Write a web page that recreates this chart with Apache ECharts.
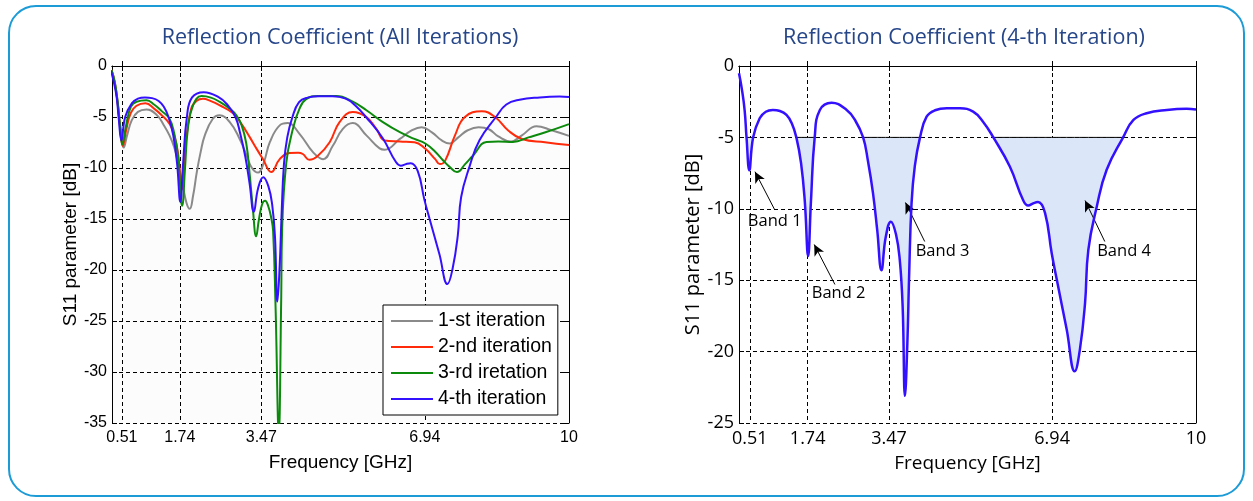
<!DOCTYPE html>
<html><head><meta charset="utf-8">
<script src="https://cdn.jsdelivr.net/npm/echarts@6/dist/echarts.min.js"></script>
<style>
html,body{margin:0;padding:0;background:#fff;}
#frame{position:absolute;left:8px;top:5px;width:1233px;height:488px;border:2px solid #1d9bd6;border-radius:28px;}
#chart{position:absolute;left:0;top:0;width:1253px;height:501px;}
</style></head><body>
<div id="frame"></div><div id="chart"></div>
<script>
// ---------- data ----------
const freqTicks = [0.51, 1.74, 3.47, 6.94, 10];
const seriesNames = ['1-st iteration', '2-nd iteration', '3-rd iretation', '4-th iteration'];
const titles = ['Reflection Coefficient (All Iterations)', 'Reflection Coefficient (4-th Iteration)'];

const it1Freq = [0.29,0.36,0.42,0.48,0.55,0.62,0.72,0.85,1.03,1.25,1.40,1.52,1.62,1.70,1.79,1.88,1.95,2.02,2.10,2.18,2.27,2.44,2.58,2.80,3.01,3.15,3.27,3.40,3.52,3.65,3.86,4.03,4.28,4.57,4.78,4.99,5.20,5.41,5.70,5.98,6.09,6.41,6.66,6.87,7.09,7.30,7.47,7.65,7.85,8.08,8.30,8.50,8.77,9.00,9.31,9.63,10.0];
const it1S11 = [-0.4,-1.6,-3.6,-6.0,-8.0,-6.8,-5.3,-4.5,-4.27,-4.8,-5.8,-6.8,-7.97,-9.45,-11.4,-13.4,-14.0,-12.75,-10.4,-8.47,-6.8,-5.17,-4.83,-5.5,-7.15,-8.7,-10.0,-10.45,-9.5,-7.47,-5.82,-5.6,-6.65,-8.47,-9.13,-7.8,-6.16,-5.6,-6.8,-8.07,-8.2,-7.15,-6.32,-6.0,-6.5,-7.3,-7.6,-7.0,-6.3,-6.0,-6.2,-6.9,-7.4,-6.8,-5.9,-6.3,-6.85];

const it2Freq = [0.29,0.36,0.42,0.47,0.53,0.60,0.70,0.82,1.01,1.20,1.35,1.52,1.62,1.70,1.78,1.86,1.98,2.10,2.23,2.40,2.58,2.87,3.05,3.22,3.38,3.50,3.68,3.86,4.07,4.25,4.35,4.49,4.67,4.92,5.13,5.41,5.70,5.91,6.09,6.41,6.72,6.94,7.16,7.26,7.37,7.58,7.79,8.15,8.43,8.71,9.0,9.49,10.0];
const it2S11 = [-0.4,-1.7,-3.7,-6.0,-7.85,-6.3,-4.6,-3.9,-3.65,-4.2,-4.8,-5.66,-6.8,-8.5,-12.1,-7.8,-4.18,-3.4,-3.22,-3.45,-3.84,-4.64,-5.7,-6.95,-8.2,-9.1,-10.4,-9.13,-8.53,-8.5,-8.63,-9.2,-8.8,-7.47,-5.5,-4.5,-5.0,-6.16,-7.3,-7.4,-7.47,-8.07,-9.13,-9.62,-9.3,-6.8,-5.0,-4.44,-5.0,-6.32,-7.15,-7.47,-7.74];

const it3Freq = [0.29,0.36,0.42,0.47,0.52,0.60,0.70,0.82,1.03,1.20,1.35,1.52,1.62,1.70,1.79,1.85,1.91,2.02,2.20,2.40,2.58,2.80,2.94,3.05,3.15,3.22,3.29,3.36,3.42,3.49,3.55,3.62,3.68,3.72,3.77,3.84,3.89,3.91,4.00,4.14,4.28,4.42,4.67,5.06,5.41,5.70,6.05,6.41,6.72,6.95,7.16,7.33,7.47,7.62,7.80,7.96,8.25,8.50,8.81,9.14,9.50,10.0];
const it3S11 = [-0.4,-1.6,-3.5,-5.8,-7.7,-5.8,-4.0,-3.5,-3.35,-3.8,-4.4,-5.17,-6.6,-8.8,-13.7,-10.0,-6.16,-3.85,-2.95,-3.1,-3.5,-4.2,-4.83,-5.8,-7.6,-10.5,-14.0,-16.7,-15.0,-13.5,-13.2,-13.8,-14.9,-16.2,-23.3,-36,-23.3,-16.2,-9.45,-6.16,-4.18,-3.25,-2.95,-2.95,-3.5,-4.34,-5.5,-6.49,-7.15,-7.6,-8.4,-9.26,-9.9,-10.4,-9.6,-8.8,-7.44,-7.4,-7.44,-7.0,-6.5,-5.7];

const it4Freq = [0.28,0.34,0.40,0.44,0.50,0.58,0.72,0.85,1.00,1.15,1.29,1.40,1.50,1.60,1.68,1.75,1.81,1.89,2.00,2.25,2.57,2.75,2.92,3.02,3.13,3.22,3.31,3.40,3.51,3.62,3.70,3.76,3.81,3.86,3.90,3.95,4.02,4.13,4.27,4.45,4.70,4.98,5.26,5.47,5.69,6.04,6.32,6.43,6.55,6.64,6.79,6.93,7.04,7.25,7.42,7.53,7.64,7.71,7.89,8.10,8.45,8.67,8.95,9.38,9.80,10.0];
const it4S11 = [-0.5,-1.6,-3.1,-5.0,-7.3,-5.0,-3.66,-3.2,-3.08,-3.15,-3.43,-4.0,-5.0,-6.8,-9.5,-13.3,-9.5,-5.0,-3.08,-2.57,-3.08,-3.8,-5.0,-6.6,-8.9,-11.5,-14.3,-12.0,-10.9,-11.8,-13.6,-16.8,-23.1,-19.5,-14.5,-9.6,-7.0,-5.0,-3.55,-3.1,-2.96,-2.96,-3.2,-3.9,-5.0,-7.04,-9.37,-9.77,-9.6,-9.53,-10.3,-13.1,-14.97,-18.46,-21.38,-19.86,-16.6,-12.87,-9.84,-7.27,-5.0,-3.78,-3.31,-3.08,-3.0,-3.05];

const bandThreshold = -5;
const bandNames = ['Band 1', 'Band 2', 'Band 3', 'Band 4'];
const bandLabelPos = [[1.04, -10.87], [2.40, -15.94], [4.61, -12.97], [8.47, -12.97]];
const arrowFrom = [[1.04, -10.07], [2.32, -15.3], [4.23, -12.29], [8.06, -12.29]];
const arrowTo = [[0.62, -7.4], [1.88, -12.5], [3.82, -9.56], [7.64, -9.42]];

// ---------- styles ----------
const LFONT = 'Liberation Sans, Arial, sans-serif';
const RFONT = 'Open Sans, Liberation Sans, sans-serif';
const colors = ['#8a8a8a', '#ff2a0a', '#0c8a0c', '#3311ff'];
const dash = [4, 3];
const SMOOTH = 0.45;

const pairs = (xs, ys) => xs.map((x, i) => [x, ys[i]]);
const fmtTick = v => (v === 10 ? '10' : v.toFixed(2));

function xAxes(grid, min, font, size, nameSize, gap) {
  return [
    { type: 'value', gridIndex: grid, min: min, max: 10, position: 'bottom',
      axisLine: { show: true, lineStyle: { color: '#000', width: 1 } },
      axisTick: { show: true, inside: true, length: 5, customValues: freqTicks, lineStyle: { color: '#000' } },
      axisLabel: { show: true, customValues: freqTicks, formatter: fmtTick, color: '#000', fontFamily: font, fontSize: size, margin: 7 },
      splitLine: { show: true, lineStyle: { color: '#000', type: dash, width: 1 } },
      name: 'Frequency [GHz]', nameLocation: 'middle', nameGap: gap,
      nameTextStyle: { color: '#000', fontFamily: font, fontSize: nameSize } },
    { type: 'value', gridIndex: grid, min: min, max: 10, position: 'top',
      axisLine: { show: true, lineStyle: { color: '#000', width: 1 } },
      axisTick: { show: true, inside: true, length: 5, customValues: freqTicks, lineStyle: { color: '#000' } },
      axisLabel: { show: false }, splitLine: { show: false } }
  ];
}
function yAxes(grid, min, font, size, nameSize, gap) {
  return [
    { type: 'value', gridIndex: grid, min: min, max: 0, interval: 5, position: 'left',
      axisLine: { show: true, lineStyle: { color: '#000', width: 1 } },
      axisTick: { show: true, inside: true, length: 5, lineStyle: { color: '#000' } },
      axisLabel: { color: '#000', fontFamily: font, fontSize: size, margin: 5 },
      splitLine: { show: true, lineStyle: { color: '#000', type: dash, width: 1 } },
      name: 'S11 parameter [dB]', nameLocation: 'middle', nameGap: gap, nameRotate: 90,
      nameTextStyle: { color: '#000', fontFamily: font, fontSize: nameSize } },
    { type: 'value', gridIndex: grid, min: min, max: 0, interval: 5, position: 'right',
      axisLine: { show: true, lineStyle: { color: '#000', width: 1 } },
      axisTick: { show: true, inside: true, length: 5, lineStyle: { color: '#000' } },
      axisLabel: { show: false }, splitLine: { show: false } }
  ];
}

const leftSeries = [
  [it1Freq, it1S11], [it2Freq, it2S11], [it3Freq, it3S11], [it4Freq, it4S11]
].map((d, i) => ({
  name: seriesNames[i], type: 'line', xAxisIndex: 0, yAxisIndex: 0,
  data: pairs(d[0], d[1]), showSymbol: false, symbol: 'none', smooth: SMOOTH,
  lineStyle: { color: colors[i], width: 2 }, itemStyle: { color: colors[i] }, z: 2 + i
}));

const fillData = it4Freq.map((x, i) => [x, it4S11[i] <= bandThreshold ? it4S11[i] : '-']);
const bandTopData = it4Freq.map((x, i) => [x, it4S11[i] <= bandThreshold ? bandThreshold : '-']);

const rightSeries = [
  { name: 'band fill', type: 'line', xAxisIndex: 2, yAxisIndex: 2, data: fillData,
    showSymbol: false, symbol: 'none', smooth: SMOOTH, connectNulls: false,
    lineStyle: { width: 0, opacity: 0 },
    areaStyle: { color: '#dbe7f8', opacity: 1, origin: bandThreshold }, z: 2 },
  { name: 'band top', type: 'line', xAxisIndex: 2, yAxisIndex: 2, data: bandTopData,
    showSymbol: false, symbol: 'none', connectNulls: false,
    lineStyle: { color: '#000', width: 1 }, itemStyle: { color: '#000' }, z: 3,
    markLine: { silent: true, symbol: ['none', 'arrow'], symbolSize: 10,
      itemStyle: { color: '#000' },
      lineStyle: { color: '#000', width: 1, type: 'solid' }, label: { show: false },
      data: arrowFrom.map((p, i) => [{ coord: p, symbol: 'none' }, { coord: arrowTo[i], symbol: 'arrow', symbolSize: [8, 11] }]) },
    markPoint: { silent: true, symbol: 'circle', symbolSize: 1, itemStyle: { color: 'rgba(0,0,0,0)' },
      label: { show: true, position: 'inside', formatter: '{b}', color: '#000', fontFamily: RFONT, fontSize: 16.5 },
      data: bandNames.map((n, i) => ({ name: n, coord: bandLabelPos[i] })) } },
  { name: '4-th iteration (band view)', type: 'line', xAxisIndex: 2, yAxisIndex: 2,
    data: pairs(it4Freq, it4S11), showSymbol: false, symbol: 'none', smooth: SMOOTH,
    lineStyle: { color: colors[3], width: 2.5 }, z: 5 }
];

const chart = echarts.init(document.getElementById('chart'), null, { renderer: 'canvas' });
chart.setOption({
  animation: false,
  backgroundColor: 'transparent',
  title: [
    { text: titles[0], left: 335, top: 22, textAlign: 'center',
      textStyle: { color: '#26468a', fontFamily: RFONT, fontSize: 21.5, fontWeight: 'normal' } },
    { text: titles[1], left: 959, top: 22, textAlign: 'center',
      textStyle: { color: '#26468a', fontFamily: RFONT, fontSize: 21.5, fontWeight: 'normal' } }
  ],
  grid: [
    { left: 112, top: 66, width: 457, height: 357, show: true, backgroundColor: '#fcfcfc', borderWidth: 0 },
    { left: 739, top: 66, width: 457, height: 357, show: true, backgroundColor: '#ffffff', borderWidth: 0 }
  ],
  legend: {
    data: seriesNames, orient: 'vertical', left: 383, top: 305,
    backgroundColor: '#fff', borderColor: '#000', borderWidth: 1, borderRadius: 0,
    padding: [6, 6, 6, 8], itemGap: 6, itemWidth: 42, itemHeight: 2, icon: 'rect',
    textStyle: { color: '#000', fontFamily: LFONT, fontSize: 19.5 }
  },
  xAxis: [...xAxes(0, 0.3, LFONT, 16, 19, 30), ...xAxes(1, 0.28, RFONT, 18, 19, 31)],
  yAxis: [...yAxes(0, -35, LFONT, 16, 19, 23), ...yAxes(1, -25, RFONT, 18, 20, 31)],
  series: [...leftSeries, ...rightSeries]
});
</script>
</body></html>
